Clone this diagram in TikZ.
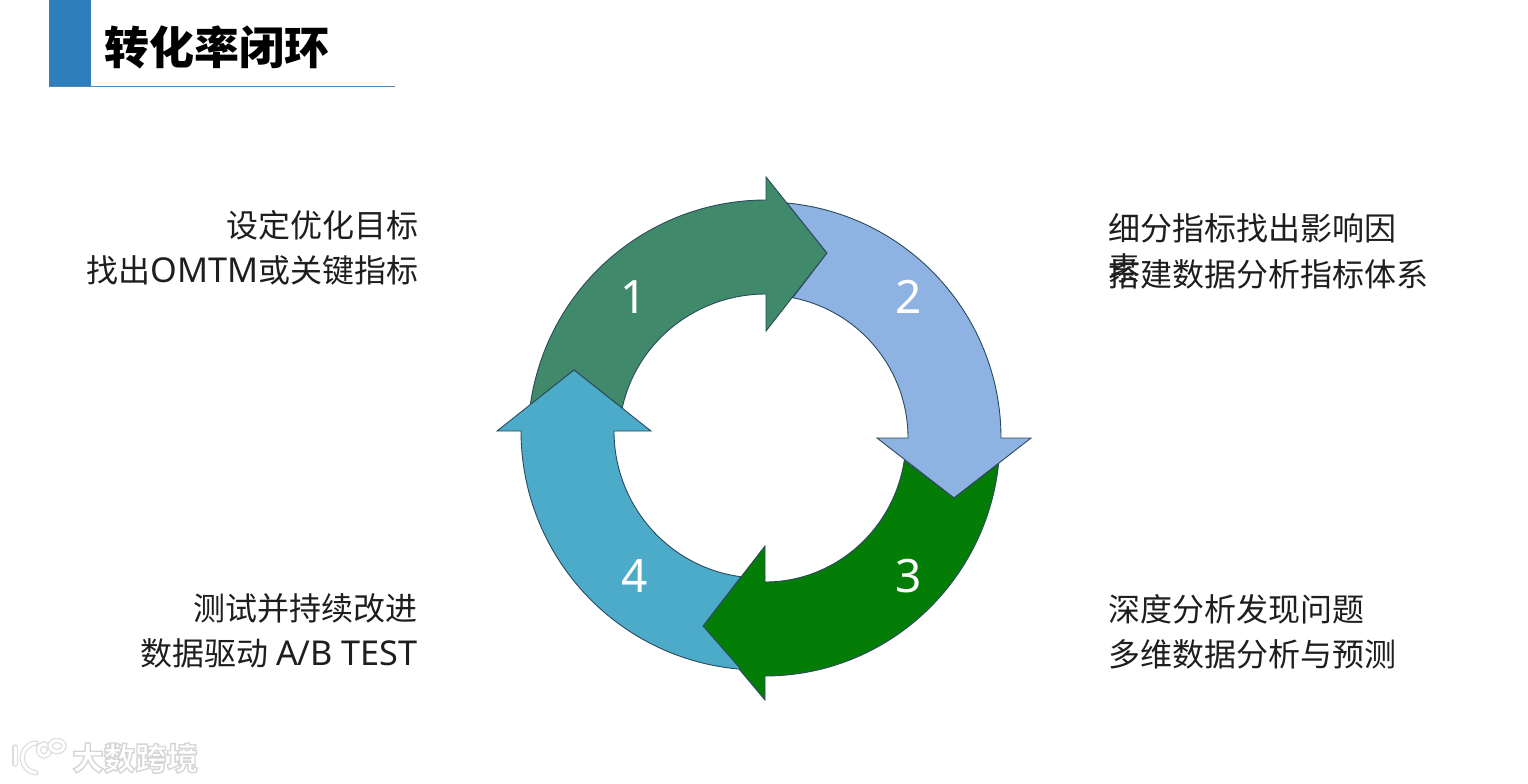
\documentclass[tikz,border=0pt]{standalone}
\usepackage{fontspec}
\setmainfont{Noto Sans CJK SC}
\newfontfamily\numfont{Noto Sans}
\newfontfamily\latn[Scale=1.07]{Noto Sans}
\definecolor{ringA}{HTML}{408A6B}
\definecolor{ringB}{HTML}{8EB2E1}
\definecolor{ringC}{HTML}{047D06}
\definecolor{ringD}{HTML}{4CABC9}
\definecolor{ringEdge}{HTML}{2B4A5C}
\definecolor{barBlue}{HTML}{2E7EBB}
\definecolor{ruleBlue}{HTML}{4F8BB8}
\definecolor{inkText}{HTML}{1E1E1E}
\definecolor{haloGrey}{HTML}{DCDCDC}
\tikzset{
  ring/.style={draw=ringEdge,line width=0.9pt,line join=miter},
  numlabel/.style={text=white,font=\numfont\fontsize{46}{46}\selectfont,inner sep=0pt},
  lefttext/.style={anchor=base east,text=inkText,font=\fontsize{32}{32}\selectfont,inner sep=0pt},
  righttext/.style={anchor=base west,text=inkText,font=\fontsize{32}{32}\selectfont,inner sep=0pt},
  logoline/.style={draw=haloGrey,line width=1.2pt,double=white,double distance=3pt,line cap=round}
}
\begin{document}
\begin{tikzpicture}[x=1pt,y=-1pt]
\useasboundingbox (0,0) rectangle (1528,784);
\fill[white] (0,0) rectangle (1528,784);
% title
\fill[barBlue] (49,0) rectangle (91,86);
\draw[ruleBlue,line width=1pt] (49,86.5) -- (395,86.5);
\node[anchor=base west,inner sep=0pt,text=black,font=\bfseries\fontsize{45}{45}\selectfont] (title) at (104,64) {转化率闭环};
% arrow 1
\path[ring,fill=ringA] ([shift={(766,438)}]188:238) arc[start angle=188,end angle=270,radius=238]
  -- (766,177) -- (827,253) -- (766,331) -- (766,294)
  arc[start angle=270,end angle=192,x radius=147,y radius=144]
  -- (574,370) -- cycle;
% arrow 2
\path[ring,fill=ringB] ([shift={(765,438)}]275.35:236) arc[start angle=275.35,end angle=360,radius=236]
  -- (1031,438) -- (954,498) -- (877,438) -- (908,438)
  arc[start angle=360,end angle=281.2,radius=143]
  -- (827,253) -- cycle;
% arrow 3
\path[ring,fill=ringC] ([shift={(765,438)}]6.2:235 and 238) arc[start angle=6.2,end angle=90,x radius=235,y radius=238]
  -- (765,700) -- (703,626) -- (765,546) -- (765,582)
  arc[start angle=90,end angle=9,x radius=141,y radius=144]
  -- (954,498) -- cycle;
% arrow 4
\path[ring,fill=ringD] ([shift={(760,431)}]94.6:239 and 239) arc[start angle=94.6,end angle=180,x radius=239,y radius=239]
  -- (497,431) -- (574,370) -- (651,431) -- (614,431)
  arc[start angle=180,end angle=97.5,x radius=146,y radius=147]
  -- (703,626) -- cycle;
% numbers
\node[numlabel] (n1) at (634,297) {1};
\node[numlabel] (n2) at (909,297) {2};
\node[numlabel] (n3) at (909,576) {3};
\node[numlabel] (n4) at (635,576) {4};
% texts
\node[lefttext] (a1) at (419,237) {设定优化目标};
\node[lefttext] (a2) at (419,282) {找出{\latn OMTM}或关键指标};
\node[righttext] (b1) at (1108.5,240) {细分指标找出影响因};
\node[righttext] (b2) at (1108.5,280) {素};
\node[righttext] (b3) at (1108.5,286) {搭建数据分析指标体系};
\node[righttext] (c1) at (1108.5,621) {深度分析发现问题};
\node[righttext] (c2) at (1108.5,666) {多维数据分析与预测};
\node[lefttext] (d1) at (418,620) {测试并持续改进};
\node[lefttext] (d2) at (418,665) {数据驱动 {\latn A/B TEST}};
% watermark
\draw[logoline] (15,747) -- (15,764);
\draw[logoline] (36,743) arc[start angle=265,end angle=95,radius=15];
\draw[logoline] (44,750) circle[x radius=5.5,y radius=6];
\draw[logoline] (57,746) circle[x radius=7,y radius=5.5];
\node[anchor=base west,inner sep=0pt,text=white,font=\bfseries\fontsize{31.5}{31.5}\selectfont] (wm) at (72,770)
  {\special{pdf:code q 2 Tr 0.84 G 1 g 1.4 w}大数跨境\special{pdf:code Q}};
\end{tikzpicture}
\end{document}
